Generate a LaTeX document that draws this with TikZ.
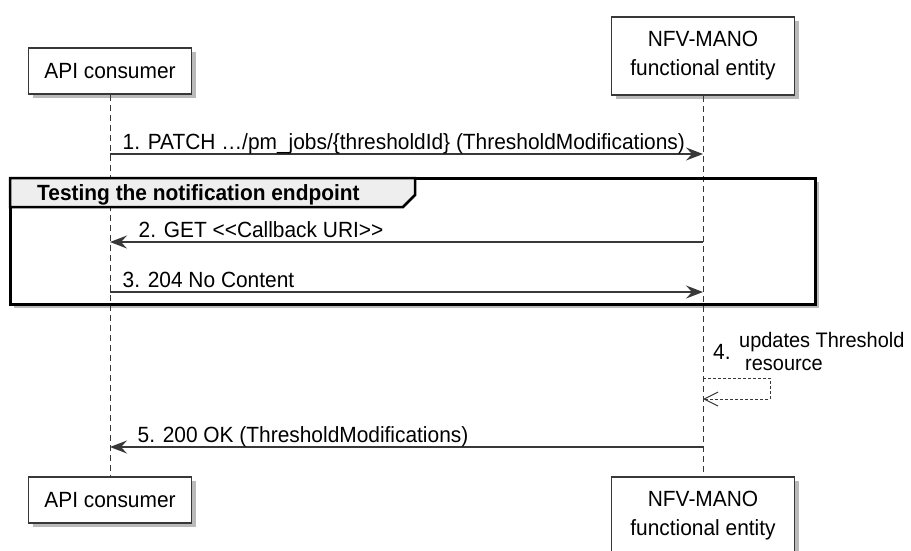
\documentclass[tikz,border=0pt]{standalone}
\usepackage{fontspec}
\setmainfont{Liberation Sans}[FakeStretch=0.95]
\usepackage{tikz}
\usetikzlibrary{arrows.meta,shadows,positioning}
\definecolor{lineclr}{HTML}{383838}
\definecolor{tabclr}{HTML}{EEEEEE}
\tikzstyle{actor} = [rectangle, draw=lineclr, line width=1.5pt, fill=white, align=center,
minimum width=163pt, minimum height=46pt, font=\fontsize{22}{29}\selectfont,
drop shadow={shadow xshift=4pt, shadow yshift=-4pt, fill=black!45, opacity=0.6}]
\tikzstyle{lifeline} = [draw=lineclr, line width=1pt, dash pattern=on 6pt off 4pt]
\tikzstyle{line} = [draw=lineclr, line width=1.3pt, -{Stealth[length=17pt, width=13pt, inset=6pt]}]
\tikzstyle{selfline} = [draw=lineclr, line width=1pt, dash pattern=on 3pt off 2pt, -{Straight Barb[length=14pt, width=14pt]}]
\tikzstyle{msg} = [inner sep=0pt, font=\fontsize{22}{24}\selectfont]
\tikzstyle{groupbg} = [fill=white, drop shadow={shadow xshift=4pt, shadow yshift=-4pt, fill=black!45, opacity=0.6}]
\tikzstyle{groupframe} = [draw=black, line width=3pt]

\begin{document}
\begin{tikzpicture}[x=1pt, y=-1pt]
	\useasboundingbox (0,0) rectangle (911,550);
	
	% Group background
	\path [groupbg] (10,178) rectangle (815,304);
	
	% Participants
	\node [actor] (cons) at (110,71) {API consumer};
	\node [actor, minimum width=183pt, minimum height=78pt] (nfvo) at (703,56) {NFV-MANO\\functional entity};
	\node [actor, below of=cons, node distance=429pt] (consB) {API consumer};
	\node [actor, minimum width=183pt, minimum height=78pt, below of=nfvo, node distance=460pt] (nfvoB) {NFV-MANO\\functional entity};
	
	% Lifelines
	\path [lifeline] (cons) -- (consB);
	\path [lifeline] (nfvo) -- (nfvoB);
	
	% Group frame and tab
	\path [groupframe] (10,178) rectangle (815,304);
	\filldraw [fill=tabclr, draw=black, line width=2.5pt] (10,178) -- (415,178) -- (415,195) -- (403,207) -- (10,207) -- cycle;
	\node [msg, anchor=base west, font=\fontsize{22}{24}\selectfont\bfseries] (grp) at (37,200) {Testing the notification endpoint};
	
	% Messages
	\coordinate (c1) at (110,154); \coordinate (n1) at (703,154);
	\coordinate (c2) at (110,242); \coordinate (n2) at (703,242);
	\coordinate (c3) at (110,292); \coordinate (n3) at (703,292);
	\coordinate (s1) at (703,378); \coordinate (s2) at (703,399);
	\coordinate (c5) at (110,447); \coordinate (n5) at (703,447);
	
	\path [line] (c1) -- (n1) node [msg, at start, anchor=base west, xshift=12pt, yshift=5pt] {1. PATCH …/pm\_jobs/\{thresholdId\} (ThresholdModifications)};
	\path [line] (n2) -- (c2) node [msg, at end, anchor=base west, xshift=28pt, yshift=5pt] {2. GET <\kern0pt<Callback URI>\kern0pt>};
	\path [line] (c3) -- (n3) node [msg, at start, anchor=base west, xshift=12pt, yshift=5pt] {3. 204 No Content};
	\path [selfline] (s1) -- ++(67,0) |- (s2);
	\node [msg, anchor=west] (num4) at (713,352) {4.};
	\node [msg, anchor=west, align=left, font=\fontsize{21}{23}\selectfont] (txt4) at (739,351) {updates Threshold\\\hspace*{6pt}resource};
	\path [line] (n5) -- (c5) node [msg, at end, anchor=base west, xshift=27pt, yshift=5pt] {5. 200 OK (ThresholdModifications)};
	
\end{tikzpicture}
\end{document}
